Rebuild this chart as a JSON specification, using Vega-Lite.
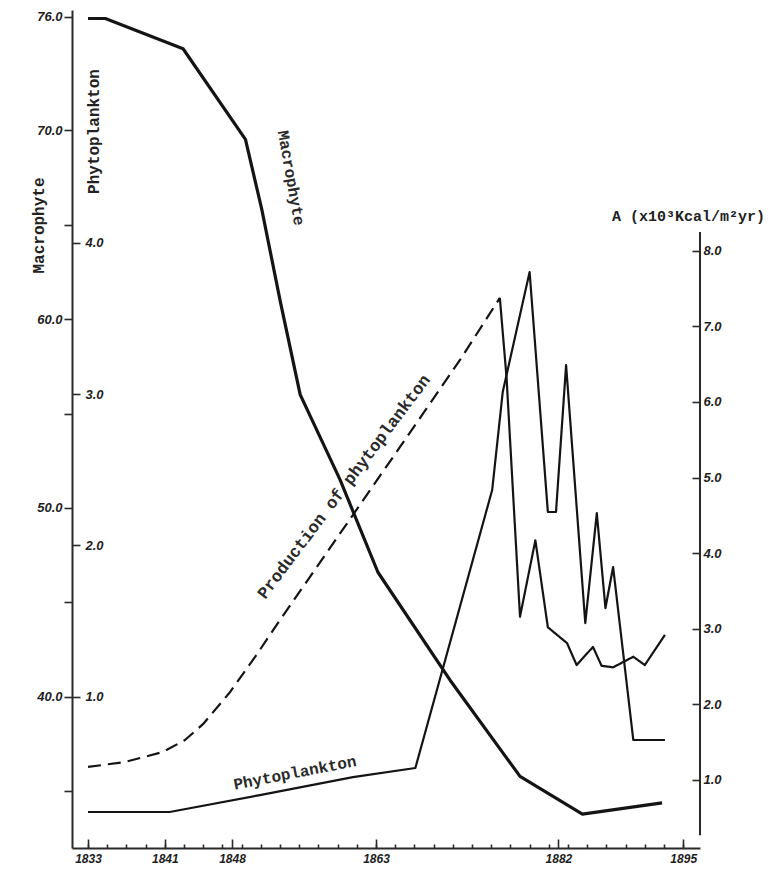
{
  "$schema": "https://vega.github.io/schema/vega-lite/v6.json",
  "width": 628,
  "height": 838,
  "autosize": {"type": "none"},
  "padding": {"left": 72, "top": 10, "right": 71, "bottom": 29},
  "background": "white",
  "config": {
    "view": {"stroke": null},
    "axis": {
      "grid": false,
      "domainColor": "#2a2a2a",
      "domainWidth": 2,
      "tickColor": "#2a2a2a",
      "tickWidth": 1.6,
      "labelColor": "#1e1e1e",
      "labelFont": "Liberation Sans",
      "labelFontStyle": "italic",
      "labelFontWeight": "bold",
      "labelFontSize": 13,
      "titleFont": "Liberation Mono",
      "titleFontSize": 16,
      "titleFontWeight": "bold",
      "titleColor": "#222222"
    }
  },
  "datasets": {
    "macro": [
      {"year": 1833.0, "value": 75.9},
      {"year": 1834.8, "value": 75.9},
      {"year": 1842.9, "value": 74.3},
      {"year": 1849.4, "value": 69.5},
      {"year": 1851.1, "value": 65.8},
      {"year": 1853.0, "value": 61.0},
      {"year": 1855.1, "value": 56.0},
      {"year": 1859.25, "value": 51.5},
      {"year": 1863.2, "value": 46.6},
      {"year": 1870.7, "value": 40.9},
      {"year": 1878.0, "value": 35.8},
      {"year": 1884.5, "value": 33.8},
      {"year": 1892.8, "value": 34.4}
    ],
    "phyto": [
      {"year": 1833.0, "value": 0.238},
      {"year": 1841.5, "value": 0.238},
      {"year": 1850.9, "value": 0.35},
      {"year": 1860.6, "value": 0.469},
      {"year": 1867.1, "value": 0.529},
      {"year": 1875.1, "value": 2.366},
      {"year": 1876.2, "value": 3.014},
      {"year": 1879.0, "value": 3.807},
      {"year": 1880.9, "value": 2.221},
      {"year": 1881.75, "value": 2.221},
      {"year": 1882.8, "value": 3.192},
      {"year": 1884.8, "value": 1.487},
      {"year": 1886.0, "value": 2.214},
      {"year": 1886.9, "value": 1.586},
      {"year": 1887.7, "value": 1.857},
      {"year": 1889.8, "value": 0.714},
      {"year": 1893.1, "value": 0.714}
    ],
    "production": [
      {"year": 1833.0, "value": 1.172, "seg": "dashed"},
      {"year": 1836.85, "value": 1.238, "seg": "dashed"},
      {"year": 1840.8, "value": 1.37, "seg": "dashed"},
      {"year": 1843.1, "value": 1.529, "seg": "dashed"},
      {"year": 1845.0, "value": 1.741, "seg": "dashed"},
      {"year": 1847.8, "value": 2.164, "seg": "dashed"},
      {"year": 1850.4, "value": 2.627, "seg": "dashed"},
      {"year": 1853.0, "value": 3.116, "seg": "dashed"},
      {"year": 1855.1, "value": 3.5, "seg": "dashed"},
      {"year": 1860.3, "value": 4.452, "seg": "dashed"},
      {"year": 1865.5, "value": 5.405, "seg": "dashed"},
      {"year": 1871.75, "value": 6.556, "seg": "dashed"},
      {"year": 1875.9, "value": 7.376, "seg": "dashed"},
      {"year": 1875.9, "value": 7.376, "seg": "solid"},
      {"year": 1876.6, "value": 6.32, "seg": "solid"},
      {"year": 1878.0, "value": 3.16, "seg": "solid"},
      {"year": 1879.6, "value": 4.17, "seg": "solid"},
      {"year": 1880.9, "value": 3.02, "seg": "solid"},
      {"year": 1882.9, "value": 2.81, "seg": "solid"},
      {"year": 1883.9, "value": 2.52, "seg": "solid"},
      {"year": 1885.6, "value": 2.76, "seg": "solid"},
      {"year": 1886.5, "value": 2.51, "seg": "solid"},
      {"year": 1887.7, "value": 2.49, "seg": "solid"},
      {"year": 1889.8, "value": 2.63, "seg": "solid"},
      {"year": 1891.0, "value": 2.52, "seg": "solid"},
      {"year": 1893.1, "value": 2.92, "seg": "solid"}
    ],
    "rightAxisLine": [
      {"year": 1896.75, "from": 0.27, "to": 8.25}
    ],
    "annotations": [
      {"year": 1859.67, "value": 4.876, "label": "Production of phytoplankton"},
      {"year": 1854.56, "value": 1.093, "label": "Phytoplankton"},
      {"year": 1854.15, "value": 8.963, "label": "Macrophyte"}
    ]
  },
  "resolve": {"scale": {"y": "independent"}, "axis": {"x": "independent"}},
  "layer": [
    {
      "data": {"name": "macro"},
      "mark": {"type": "line", "color": "#141414", "strokeWidth": 3.2, "strokeJoin": "round"},
      "encoding": {
        "x": {
          "field": "year", "type": "quantitative",
          "scale": {"domain": [1831.33, 1896.75], "nice": false, "zero": false},
          "axis": {
            "orient": "bottom",
            "values": [1833, 1841, 1848, 1863, 1882, 1895],
            "format": "d",
            "tickSize": -9,
            "labelPadding": 14,
            "labelFlush": false,
            "labelOverlap": false,
            "labelFontSize": 12,
            "title": null
          }
        },
        "y": {
          "field": "value", "type": "quantitative",
          "scale": {"domain": [32.01, 76.35], "nice": false, "zero": false},
          "axis": {
            "orient": "left",
            "values": [35, 40, 45, 50, 55, 60, 65, 70, 76],
            "labelExpr": "indexof([40, 50, 60, 70, 76], datum.value) >= 0 ? format(datum.value, '.1f') : ''",
            "tickSize": 8,
            "labelPadding": 2,
            "labelOverlap": false,
            "title": "Macrophyte",
            "titleAngle": -90,
            "titleX": -34,
            "titleY": 215,
            "titleAlign": "center",
            "titleBaseline": "middle"
          }
        }
      }
    },
    {
      "data": {"name": "phyto"},
      "mark": {"type": "line", "color": "#141414", "strokeWidth": 2.2, "strokeJoin": "round"},
      "encoding": {
        "x": {
          "field": "year", "type": "quantitative",
          "scale": {"domain": [1831.33, 1896.75], "nice": false, "zero": false},
          "axis": {
            "orient": "bottom",
            "values": [1833, 1835, 1837, 1839, 1841, 1843, 1845, 1847, 1849, 1851, 1853, 1855, 1857, 1859, 1861, 1863, 1865, 1867, 1869, 1871, 1873, 1875, 1877, 1879, 1881, 1883, 1885, 1887, 1889, 1891, 1893, 1895],
            "tickSize": -4,
            "labels": false,
            "domain": false,
            "title": null
          }
        },
        "y": {
          "field": "value", "type": "quantitative",
          "scale": {"domain": [0, 5.539], "nice": false, "zero": false},
          "axis": {
            "orient": "right",
            "offset": -628,
            "values": [1, 2, 3, 4],
            "format": ".1f",
            "tickSize": 8,
            "labelPadding": 5,
            "domain": false,
            "labelOverlap": false,
            "title": "Phytoplankton",
            "titleAngle": -90,
            "titleX": 21,
            "titleY": 121,
            "titleAlign": "center",
            "titleBaseline": "middle"
          }
        }
      }
    },
    {
      "data": {"name": "production"},
      "mark": {"type": "line", "color": "#141414", "strokeWidth": 2.2, "strokeJoin": "round"},
      "encoding": {
        "x": {"field": "year", "type": "quantitative", "scale": {"domain": [1831.33, 1896.75], "nice": false, "zero": false}, "axis": null},
        "y": {
          "field": "value", "type": "quantitative",
          "scale": {"domain": [0.1, 11.185], "nice": false, "zero": false},
          "axis": {
            "orient": "right",
            "offset": 0,
            "values": [1, 2, 3, 4, 5, 6, 7, 8],
            "format": ".1f",
            "tickSize": -8,
            "labelPadding": 11,
            "domain": false,
            "labelOverlap": false,
            "title": "A  (x10³Kcal/m²yr)",
            "titleAngle": 0,
            "titleX": -12,
            "titleY": 205,
            "titleAlign": "center",
            "titleBaseline": "middle",
            "titleFontSize": 15
          }
        },
        "strokeDash": {
          "field": "seg", "type": "nominal",
          "scale": {"domain": ["dashed", "solid"], "range": [[13, 7], [1, 0]]},
          "legend": null
        }
      }
    },
    {
      "data": {"name": "rightAxisLine"},
      "mark": {"type": "rule", "color": "#2a2a2a", "strokeWidth": 2},
      "encoding": {
        "x": {"field": "year", "type": "quantitative", "axis": null},
        "y": {"field": "from", "type": "quantitative", "scale": {"domain": [0.1, 11.185], "nice": false, "zero": false}, "axis": null},
        "y2": {"field": "to"}
      }
    },
    {
      "data": {"name": "annotations"},
      "transform": [{"filter": "datum.label == 'Production of phytoplankton'"}],
      "mark": {"type": "text", "font": "Liberation Mono", "fontSize": 17, "fontWeight": "bold", "color": "#2a2a2a", "angle": 307, "align": "center", "baseline": "middle"},
      "encoding": {
        "x": {"field": "year", "type": "quantitative", "axis": null},
        "y": {"field": "value", "type": "quantitative", "scale": {"domain": [0.1, 11.185], "nice": false, "zero": false}, "axis": null},
        "text": {"field": "label"}
      }
    },
    {
      "data": {"name": "annotations"},
      "transform": [{"filter": "datum.label == 'Phytoplankton'"}],
      "mark": {"type": "text", "font": "Liberation Mono", "fontSize": 16, "fontWeight": "bold", "color": "#2a2a2a", "angle": 349, "align": "center", "baseline": "middle"},
      "encoding": {
        "x": {"field": "year", "type": "quantitative", "axis": null},
        "y": {"field": "value", "type": "quantitative", "scale": {"domain": [0.1, 11.185], "nice": false, "zero": false}, "axis": null},
        "text": {"field": "label"}
      }
    },
    {
      "data": {"name": "annotations"},
      "transform": [{"filter": "datum.label == 'Macrophyte'"}],
      "mark": {"type": "text", "font": "Liberation Mono", "fontSize": 16, "fontWeight": "bold", "color": "#2a2a2a", "angle": 80, "align": "center", "baseline": "middle"},
      "encoding": {
        "x": {"field": "year", "type": "quantitative", "axis": null},
        "y": {"field": "value", "type": "quantitative", "scale": {"domain": [0.1, 11.185], "nice": false, "zero": false}, "axis": null},
        "text": {"field": "label"}
      }
    }
  ]
}
